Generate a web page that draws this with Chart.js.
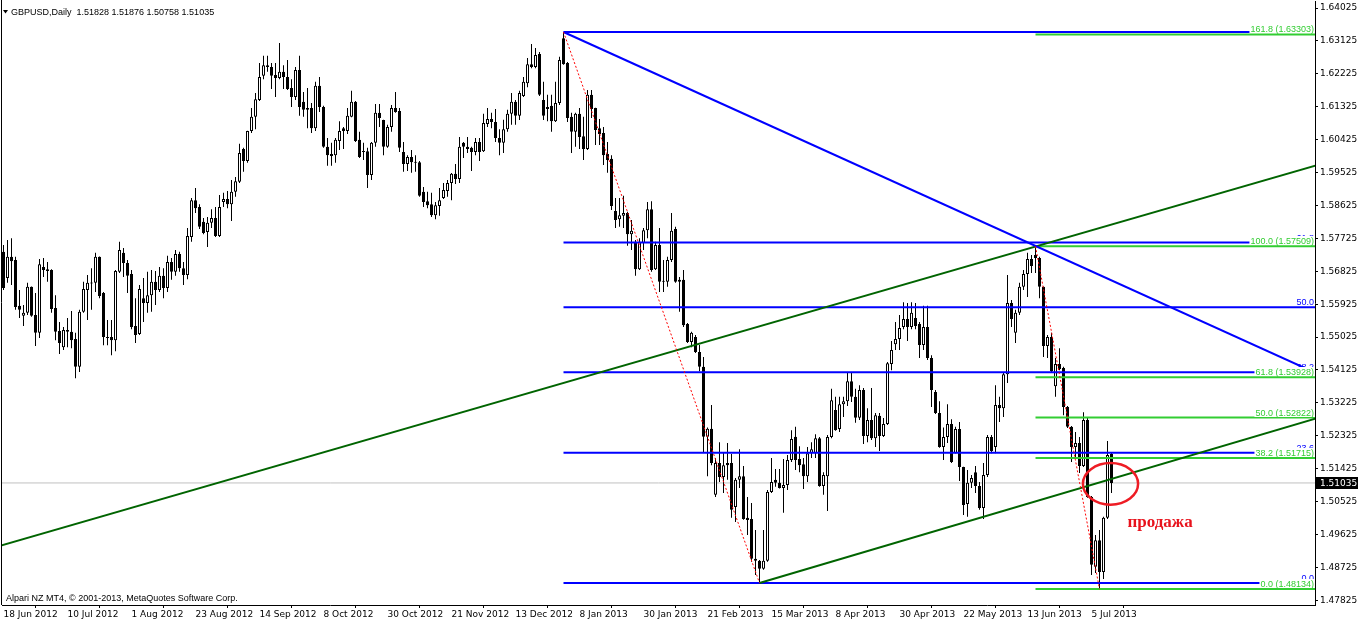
<!DOCTYPE html>
<html>
<head>
<meta charset="utf-8">
<title>GBPUSD Daily</title>
<script src="https://cdn.jsdelivr.net/npm/chart.js@4/dist/chart.umd.min.js"></script>
<style>
  html, body { margin: 0; padding: 0; background: #fff; }
  canvas { display: block; }
</style>
</head>
<body>
<canvas id="gbpChart" width="1358" height="623"></canvas>
<script>
// daily bars, 18 Jun 2012 .. 12 Jul 2013
const opens = [
  1.5736,1.5664,1.5722,1.5713,1.5588,1.5561,1.5569,1.5640,1.5563,1.5514,
  1.5694,1.5688,1.5686,1.5582,1.5519,1.5475,1.5522,1.5517,1.5497,1.5421,
  1.5572,1.5631,1.5649,1.5651,1.5722,1.5623,1.5503,1.5503,1.5494,1.5681,
  1.5733,1.5705,1.5675,1.5533,1.5511,1.5609,1.5596,1.5617,1.5654,1.5631,
  1.5670,1.5637,1.5708,1.5681,1.5730,1.5691,1.5672,1.5776,1.5877,1.5858,
  1.5818,1.5790,1.5815,1.5828,1.5779,1.5872,1.5880,1.5866,1.5900,1.5927,
  1.6017,1.5984,1.6066,1.6105,1.6151,1.6217,1.6246,1.6241,1.6219,1.6211,
  1.6228,1.6214,1.6184,1.6159,1.6233,1.6146,1.6129,1.6129,1.6074,1.6190,
  1.6132,1.6023,1.6003,1.6000,1.6039,1.6074,1.6066,1.6105,1.6146,1.6042,
  1.6011,1.6011,1.5946,1.6034,1.6116,1.6096,1.6023,1.6077,1.6129,1.6121,
  1.6009,1.5976,1.5995,1.5981,1.5981,1.5900,1.5874,1.5866,1.5836,1.5861,
  1.5883,1.5902,1.5924,1.5949,1.5935,1.6034,1.6023,1.6020,1.6009,1.6036,
  1.6011,1.6085,1.6099,1.6091,1.6047,1.6034,1.6071,1.6113,1.6146,1.6108,
  1.6162,1.6197,1.6249,1.6241,1.6277,1.6151,1.6126,1.6135,1.6093,1.6143,
  1.6320,1.6252,1.6105,1.6064,1.6113,1.6052,1.6017,1.6165,1.6129,1.6074,
  1.6061,1.6003,1.5990,1.5847,1.5825,1.5834,1.5842,1.5784,1.5763,1.5688,
  1.5760,1.5795,1.5852,1.5688,1.5754,1.5656,1.5654,1.5713,1.5798,1.5659,
  1.5659,1.5538,1.5489,1.5503,1.5462,1.5421,1.5230,1.5252,1.5071,1.5158,
  1.5120,1.5158,1.5158,1.5038,1.5112,1.5122,1.5008,1.5005,1.4896,1.4891,
  1.4869,1.4891,1.5079,1.5112,1.5104,1.5090,1.5098,1.5166,1.5230,1.5169,
  1.5155,1.5122,1.5185,1.5185,1.5226,1.5095,1.5122,1.5229,1.5303,1.5251,
  1.5319,1.5327,1.5382,1.5339,1.5282,1.5358,1.5232,1.5276,1.5226,1.5287,
  1.5232,1.5265,1.5429,1.5483,1.5497,1.5530,1.5552,1.5530,1.5555,1.5538,
  1.5481,1.5530,1.5445,1.5352,1.5295,1.5202,1.5229,1.5265,1.5185,1.5251,
  1.5147,1.5046,1.5104,1.5133,1.5095,1.5035,1.5125,1.5229,1.5202,1.5317,
  1.5308,1.5401,1.5596,1.5514,1.5569,1.5640,1.5675,1.5716,1.5727,1.5719,
  1.5640,1.5478,1.5503,1.5368,1.5429,1.5418,1.5311,1.5257,1.5202,1.5213,
  1.5150,1.5276,1.5065,1.4874,1.4947,1.4860,1.5008,1.51828
];
const highs = [
  1.5754,1.5768,1.5773,1.5722,1.5631,1.5590,1.5651,1.5641,1.5623,1.5716,
  1.5719,1.5708,1.5688,1.5617,1.5544,1.5530,1.5555,1.5574,1.5514,1.5577,
  1.5654,1.5672,1.5691,1.5733,1.5723,1.5626,1.5549,1.5549,1.5686,1.5763,
  1.5746,1.5713,1.5686,1.5609,1.5645,1.5664,1.5681,1.5686,1.5683,1.5694,
  1.5691,1.5725,1.5719,1.5741,1.5736,1.5708,1.5801,1.5883,1.5910,1.5866,
  1.5828,1.5831,1.5852,1.5858,1.5891,1.5897,1.5902,1.5932,1.5940,1.6031,
  1.6020,1.6067,1.6129,1.6170,1.6252,1.6272,1.6272,1.6252,1.6252,1.6307,
  1.6246,1.6260,1.6208,1.6241,1.6272,1.6173,1.6184,1.6143,1.6201,1.6214,
  1.6135,1.6047,1.6034,1.6047,1.6093,1.6077,1.6129,1.6176,1.6148,1.6064,
  1.6034,1.6020,1.6036,1.6140,1.6140,1.6097,1.6083,1.6137,1.6173,1.6129,
  1.6036,1.6000,1.6014,1.6000,1.5984,1.5913,1.5900,1.5897,1.5872,1.5910,
  1.5924,1.5932,1.5951,1.5976,1.6050,1.6036,1.6050,1.6023,1.6047,1.6047,
  1.6113,1.6129,1.6116,1.6126,1.6071,1.6097,1.6124,1.6170,1.6151,1.6176,
  1.6214,1.6266,1.6304,1.6293,1.6282,1.6201,1.6165,1.6165,1.6201,1.6269,
  1.6337,1.6255,1.6116,1.6116,1.6129,1.6105,1.6178,1.6178,1.6130,1.6099,
  1.6077,1.6036,1.6000,1.5883,1.5883,1.5889,1.5845,1.5823,1.5768,1.5773,
  1.5801,1.5872,1.5874,1.5763,1.5801,1.5713,1.5722,1.5842,1.5804,1.5667,
  1.5686,1.5541,1.5517,1.5508,1.5481,1.5448,1.5255,1.5317,1.5172,1.5215,
  1.5186,1.5213,1.5183,1.5117,1.5196,1.5150,1.5065,1.5049,1.4975,1.4893,
  1.4975,1.5084,1.5172,1.5142,1.5142,1.5169,1.5180,1.5248,1.5257,1.5204,
  1.5172,1.5202,1.5215,1.5237,1.5229,1.5133,1.5235,1.5361,1.5339,1.5339,
  1.5339,1.5407,1.5407,1.5361,1.5371,1.5363,1.5308,1.5363,1.5295,1.5295,
  1.5281,1.5434,1.5492,1.5544,1.5563,1.5598,1.5596,1.5598,1.5596,1.5544,
  1.5588,1.5588,1.5453,1.5358,1.5327,1.5255,1.5319,1.5278,1.5257,1.5270,
  1.5148,1.5139,1.5125,1.5150,1.5106,1.5158,1.5235,1.5235,1.5371,1.5339,
  1.5404,1.5672,1.5604,1.5577,1.5651,1.5686,1.5733,1.5727,1.5751,1.5722,
  1.5641,1.5508,1.5514,1.5445,1.5472,1.5421,1.5314,1.5259,1.5243,1.5229,
  1.5297,1.5284,1.5068,1.4961,1.4975,1.5011,1.5218,1.51876
];
const lows = [
  1.5631,1.5651,1.5645,1.5577,1.5555,1.5533,1.5563,1.5558,1.5478,1.5500,
  1.5667,1.5654,1.5569,1.5494,1.5456,1.5467,1.5475,1.5472,1.5390,1.5407,
  1.5569,1.5549,1.5577,1.5626,1.5609,1.5480,1.5480,1.5453,1.5464,1.5678,
  1.5667,1.5623,1.5524,1.5486,1.5508,1.5544,1.5569,1.5572,1.5590,1.5626,
  1.5609,1.5626,1.5659,1.5670,1.5681,1.5645,1.5661,1.5763,1.5842,1.5798,
  1.5784,1.5749,1.5801,1.5776,1.5776,1.5858,1.5855,1.5820,1.5886,1.5924,
  1.5955,1.5979,1.6061,1.6071,1.6148,1.6208,1.6228,1.6181,1.6159,1.6208,
  1.6181,1.6178,1.6132,1.6151,1.6108,1.6105,1.6074,1.6061,1.6066,1.6118,
  1.6020,1.5971,1.5971,1.5979,1.6014,1.6017,1.6058,1.6104,1.6036,1.5992,
  1.5987,1.5910,1.5932,1.6023,1.6077,1.6000,1.6020,1.6064,1.6116,1.6009,
  1.5955,1.5957,1.5952,1.5955,1.5886,1.5858,1.5855,1.5831,1.5825,1.5834,
  1.5880,1.5886,1.5877,1.5921,1.5924,1.5992,1.6006,1.5957,1.6000,1.5984,
  1.6009,1.6077,1.6074,1.6036,1.6000,1.6006,1.6064,1.6083,1.6083,1.6096,
  1.6159,1.6186,1.6238,1.6238,1.6162,1.6096,1.6093,1.6064,1.6091,1.6137,
  1.6247,1.6091,1.6006,1.6023,1.6017,1.5987,1.6014,1.6102,1.6028,1.6028,
  1.5973,1.5952,1.5850,1.5801,1.5804,1.5801,1.5752,1.5741,1.5670,1.5686,
  1.5741,1.5773,1.5681,1.5686,1.5626,1.5626,1.5640,1.5708,1.5651,1.5572,
  1.5530,1.5486,1.5475,1.5459,1.5409,1.5186,1.5122,1.5152,1.5065,1.5106,
  1.5076,1.5112,1.5008,1.4997,1.5090,1.5003,1.4961,1.4888,1.4852,1.4830,
  1.4866,1.4888,1.5076,1.5093,1.5088,1.5022,1.5084,1.5161,1.5139,1.5133,
  1.5087,1.5106,1.5172,1.5172,1.5093,1.5071,1.5027,1.5226,1.5246,1.5243,
  1.5284,1.5314,1.5325,1.5268,1.5276,1.5210,1.5215,1.5221,1.5202,1.5191,
  1.5229,1.5262,1.5412,1.5467,1.5467,1.5524,1.5492,1.5524,1.5524,1.5445,
  1.5467,1.5440,1.5311,1.5292,1.5200,1.5166,1.5213,1.5158,1.5184,1.5109,
  1.5016,1.5011,1.5090,1.5076,1.5030,1.5005,1.5120,1.5185,1.5185,1.5270,
  1.5284,1.5377,1.5530,1.5486,1.5563,1.5631,1.5612,1.5678,1.5678,1.5609,
  1.5448,1.5445,1.5404,1.5339,1.5412,1.5289,1.5254,1.5161,1.5174,1.5131,
  1.5147,1.5063,1.4852,1.4857,1.4813,1.4841,1.5005,1.50758
];
const closes = [
  1.5637,1.5722,1.5710,1.5585,1.5577,1.5569,1.5640,1.5561,1.5514,1.5702,
  1.5686,1.5683,1.5579,1.5517,1.5486,1.5522,1.5517,1.5494,1.5421,1.5572,
  1.5634,1.5651,1.5651,1.5722,1.5615,1.5503,1.5500,1.5494,1.5683,1.5741,
  1.5705,1.5670,1.5530,1.5508,1.5634,1.5596,1.5617,1.5654,1.5631,1.5670,
  1.5637,1.5708,1.5681,1.5730,1.5691,1.5672,1.5779,1.5877,1.5855,1.5804,
  1.5787,1.5815,1.5828,1.5779,1.5858,1.5880,1.5866,1.5900,1.5929,1.6006,
  1.5984,1.6066,1.6105,1.6153,1.6214,1.6246,1.6241,1.6217,1.6211,1.6228,
  1.6214,1.6181,1.6159,1.6233,1.6132,1.6124,1.6124,1.6074,1.6190,1.6132,
  1.6023,1.6000,1.5998,1.6042,1.6066,1.6066,1.6108,1.6146,1.6039,1.5995,
  1.6009,1.5946,1.6034,1.6116,1.6102,1.6023,1.6077,1.6129,1.6118,1.6020,
  1.5976,1.5995,1.5981,1.5979,1.5889,1.5872,1.5863,1.5836,1.5863,1.5877,
  1.5905,1.5924,1.5949,1.5935,1.6023,1.6023,1.6017,1.6009,1.6036,1.6009,
  1.6088,1.6099,1.6091,1.6047,1.6034,1.6071,1.6113,1.6146,1.6108,1.6170,
  1.6201,1.6249,1.6241,1.6274,1.6165,1.6108,1.6132,1.6093,1.6143,1.6260,
  1.6249,1.6102,1.6064,1.6113,1.6050,1.6017,1.6165,1.6126,1.6069,1.6058,
  1.6000,1.5987,1.5861,1.5823,1.5836,1.5842,1.5784,1.5793,1.5688,1.5763,
  1.5795,1.5852,1.5686,1.5754,1.5654,1.5654,1.5713,1.5793,1.5654,1.5654,
  1.5535,1.5489,1.5514,1.5462,1.5421,1.5230,1.5252,1.5158,1.5158,1.5120,
  1.5152,1.5152,1.5030,1.5112,1.5122,1.5005,1.5002,1.4896,1.4891,1.4869,
  1.4891,1.5079,1.5106,1.5104,1.5090,1.5098,1.5166,1.5224,1.5166,1.5152,
  1.5122,1.5185,1.5196,1.5226,1.5095,1.5125,1.5229,1.5330,1.5248,1.5319,
  1.5327,1.5382,1.5339,1.5282,1.5358,1.5232,1.5276,1.5226,1.5289,1.5232,
  1.5265,1.5431,1.5467,1.5497,1.5527,1.5552,1.5530,1.5569,1.5533,1.5481,
  1.5530,1.5445,1.5358,1.5295,1.5202,1.5229,1.5265,1.5161,1.5251,1.5147,
  1.5043,1.5104,1.5117,1.5095,1.5035,1.5125,1.5229,1.5191,1.5317,1.5308,
  1.5401,1.5596,1.5552,1.5569,1.5640,1.5675,1.5716,1.5697,1.5719,1.5640,
  1.5478,1.5503,1.5409,1.5429,1.5415,1.5311,1.5257,1.5202,1.5213,1.5150,
  1.5276,1.5065,1.4880,1.4947,1.4860,1.5008,1.5180,1.51035
];

const dateTickBars = [0, 16, 32, 48, 64, 80, 96, 112, 128, 144, 160, 176, 192, 208, 224, 240, 256, 272];
const dateLabels = [
  "18 Jun 2012", "10 Jul 2012", "1 Aug 2012", "23 Aug 2012", "14 Sep 2012", "8 Oct 2012",
  "30 Oct 2012", "21 Nov 2012", "13 Dec 2012", "8 Jan 2013", "30 Jan 2013", "21 Feb 2013",
  "15 Mar 2013", "8 Apr 2013", "30 Apr 2013", "22 May 2013", "13 Jun 2013", "5 Jul 2013"
];
const priceTicks = [
  1.64025, 1.63125, 1.62225, 1.61325, 1.60425, 1.59525, 1.58625, 1.57725, 1.56825, 1.55925,
  1.55025, 1.54125, 1.53225, 1.52325, 1.51425, 1.50525, 1.49625, 1.48725, 1.47825
];

// fibonacci retracements (blue: Jan high -> Mar low, green: Jun high -> Jul low)
const blueFibStart = 140;
const blueFibLabels = ["100.0", "61.8", "50.0", "38.2", "23.6", "0.0"];
const blueFibPrices = [1.6337, 1.5761, 1.5584, 1.5406, 1.5186, 1.4830];
const greenFibStart = 258;
const greenFibLabels = ["161.8 (1.63303)", "100.0 (1.57509)", "61.8 (1.53928)", "50.0 (1.52822)", "38.2 (1.51715)", "0.0 (1.48134)"];
const greenFibPrices = [1.63303, 1.57509, 1.53928, 1.52822, 1.51715, 1.48134];

// trend lines: [bar, price] end points
const blueTrend = [[140, 1.6337], [330, 1.5395]];
const greenTrendLong = [[-1, 1.4931], [330, 1.5978]];
const greenTrendLow = [[189, 1.4830], [330, 1.5286]];
const redSwingDown1 = [[140, 1.6337], [189, 1.4830]];
const redSwingDown2 = [[258, 1.5751], [274, 1.4813]];

// sell zone mark
const sellZone = { bar: 276.75, price: 1.5101, halfBars: 6.9, halfPrice: 0.0057 };
const sellNote = { bar: 281, price: 1.4994, text: "продажа" };

const symbolTitle = "GBPUSD,Daily  1.51828 1.51876 1.50758 1.51035";
const brokerNote = "Alpari NZ MT4, © 2001-2013, MetaQuotes Software Corp.";
const lastPrice = 1.51035;

// visible window
const xMin = -0.375;
const xMax = 327.875;
const yMin = 1.47697;
const yMax = 1.64217;

const labelFont = '9px "Liberation Sans", Arial, sans-serif';

function toPoints(pairs) {
  return pairs.map((p) => ({ x: p[0], y: p[1] }));
}

function lineSet(points, color, width, dash, order) {
  return {
    type: "line",
    data: points,
    borderColor: color,
    borderWidth: width,
    borderDash: dash || [],
    pointRadius: 0,
    fill: false,
    tension: 0,
    order: order,
  };
}

const barIndex = opens.map((o, i) => i);
const wickData = barIndex.map((i) => ({ x: i, y: [lows[i], highs[i]] }));
const bodyData = barIndex.map((i) => ({
  x: i,
  y: [Math.min(opens[i], closes[i]), Math.max(opens[i], closes[i])],
}));
const bodyColors = barIndex.map((i) => (closes[i] >= opens[i] ? "#ffffff" : "#000000"));

const datasets = [];

// objects on top of the candles
datasets.push(lineSet(toPoints(redSwingDown1), "#ff0000", 1, [2, 2], 1));
datasets.push(lineSet(toPoints(redSwingDown2), "#ff0000", 1, [2, 2], 1));
datasets.push(lineSet(toPoints(blueTrend), "#0000ff", 2, null, 1));
datasets.push(lineSet(toPoints(greenTrendLong), "#006400", 2, null, 1));
datasets.push(lineSet(toPoints(greenTrendLow), "#006400", 2, null, 1));
blueFibPrices.forEach((p) => {
  datasets.push(lineSet([{ x: blueFibStart, y: p }, { x: xMax + 1, y: p }], "#0000ff", 2, null, 2));
});
greenFibPrices.forEach((p) => {
  datasets.push(lineSet([{ x: greenFibStart, y: p }, { x: xMax + 1, y: p }], "#32cd32", 2, null, 2));
});

// candles
datasets.push({
  type: "bar",
  data: bodyData,
  backgroundColor: bodyColors,
  borderColor: "#000000",
  borderWidth: 1,
  borderSkipped: false,
  grouped: false,
  barThickness: 3,
  maxBarThickness: 3,
  minBarLength: 1,
  inflateAmount: 0,
  order: 5,
});
datasets.push({
  type: "bar",
  data: wickData,
  backgroundColor: "#000000",
  borderWidth: 0,
  grouped: false,
  barThickness: 1,
  maxBarThickness: 1,
  inflateAmount: 0,
  order: 6,
});

// bid line under everything
datasets.push(lineSet([{ x: xMin, y: lastPrice }, { x: xMax, y: lastPrice }], "#c0c0c0", 1, null, 9));

const overlayPlugin = {
  id: "overlay",
  afterDatasetsDraw(chart) {
    const { ctx, chartArea } = chart;
    const xs = chart.scales.x;
    const ys = chart.scales.y;
    ctx.save();

    // red ellipse round the sell area
    const cx = xs.getPixelForValue(sellZone.bar);
    const cy = ys.getPixelForValue(sellZone.price);
    const rx = xs.getPixelForValue(sellZone.bar + sellZone.halfBars) - cx;
    const ry = cy - ys.getPixelForValue(sellZone.price + sellZone.halfPrice);
    ctx.beginPath();
    ctx.ellipse(cx, cy, rx, ry, 0, 0, Math.PI * 2);
    ctx.strokeStyle = "#ee1c24";
    ctx.lineWidth = 2.5;
    ctx.stroke();

    ctx.font = 'bold 17px "Liberation Serif", "Times New Roman", serif';
    ctx.fillStyle = "#e8121c";
    ctx.textAlign = "left";
    ctx.textBaseline = "middle";
    ctx.fillText(sellNote.text, xs.getPixelForValue(sellNote.bar), ys.getPixelForValue(sellNote.price));

    // fib level texts
    ctx.font = labelFont;
    ctx.textAlign = "right";
    ctx.textBaseline = "alphabetic";
    const right = chartArea.right - 1;
    blueFibPrices.forEach((p, i) => {
      const py = Math.round(ys.getPixelForValue(p)) - 2;
      ctx.fillStyle = "#0000ff";
      ctx.fillText(blueFibLabels[i], right, py);
    });
    greenFibPrices.forEach((p, i) => {
      const py = Math.round(ys.getPixelForValue(p)) - 2;
      const w = ctx.measureText(greenFibLabels[i]).width;
      ctx.fillStyle = "#ffffff";
      ctx.fillRect(right - w - 1, py - 8, w + 2, 9);
      ctx.fillStyle = "#32cd32";
      ctx.fillText(greenFibLabels[i], right, py);
    });
    ctx.restore();
  },
  afterDraw(chart) {
    const { ctx, chartArea } = chart;
    const ys = chart.scales.y;
    ctx.save();

    // left frame line
    ctx.strokeStyle = "#000000";
    ctx.lineWidth = 1;
    ctx.beginPath();
    ctx.moveTo(1.5, 0);
    ctx.lineTo(1.5, chartArea.bottom);
    ctx.stroke();

    // symbol title
    ctx.fillStyle = "#000000";
    ctx.beginPath();
    ctx.moveTo(3, 10);
    ctx.lineTo(8, 10);
    ctx.lineTo(5.5, 13.5);
    ctx.closePath();
    ctx.fill();
    ctx.font = labelFont;
    ctx.textAlign = "left";
    ctx.textBaseline = "alphabetic";
    ctx.fillText(symbolTitle, 11, 15);
    ctx.fillText(brokerNote, 6, 601);

    // bid price box on the scale
    const py = Math.round(ys.getPixelForValue(lastPrice));
    ctx.fillStyle = "#000000";
    ctx.fillRect(chartArea.right + 1, py - 6, 43, 12);
    ctx.fillStyle = "#ffffff";
    ctx.font = '9px "DejaVu Sans", sans-serif';
    ctx.textBaseline = "middle";
    ctx.fillText(lastPrice.toFixed(5), chartArea.right + 5, py + 0.5);
    ctx.restore();
  },
};

const ctx = document.getElementById("gbpChart").getContext("2d");
new Chart(ctx, {
  data: { datasets: datasets },
  options: {
    responsive: false,
    animation: false,
    events: [],
    layout: { padding: { left: 2, top: 1, right: 0, bottom: 0 } },
    plugins: { legend: { display: false }, tooltip: { enabled: false } },
    scales: {
      x: {
        type: "linear",
        min: xMin,
        max: xMax,
        offset: false,
        grid: { drawOnChartArea: false, drawTicks: true, tickLength: 3, color: "#000000" },
        border: { display: true, color: "#000000" },
        ticks: {
          autoSkip: false,
          maxRotation: 0,
          align: "start",
          padding: 1,
          color: "#000000",
          font: { family: "DejaVu Sans", size: 9 },
          callback: (value, index) => dateLabels[index],
        },
        afterBuildTicks: (scale) => {
          scale.ticks = dateTickBars.map((v) => ({ value: v }));
        },
        afterFit: (scale) => {
          scale.height = 18;
          scale.paddingLeft = 0;
          scale.paddingRight = 0;
        },
      },
      y: {
        type: "linear",
        position: "right",
        min: yMin,
        max: yMax,
        grid: { drawOnChartArea: false, drawTicks: true, tickLength: 3, color: "#000000" },
        border: { display: true, color: "#000000" },
        ticks: {
          padding: 2,
          color: "#000000",
          font: { family: "DejaVu Sans", size: 9 },
          callback: (value) => value.toFixed(5),
        },
        afterBuildTicks: (scale) => {
          scale.ticks = priceTicks.map((v) => ({ value: v }));
        },
        afterFit: (scale) => {
          scale.width = 43;
          scale.paddingTop = 0;
          scale.paddingBottom = 0;
        },
      },
    },
  },
  plugins: [overlayPlugin],
});
</script>
</body>
</html>
